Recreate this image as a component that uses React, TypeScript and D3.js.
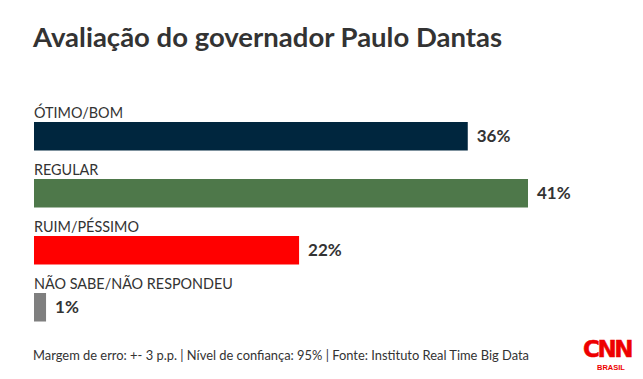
import React from "react";
import * as d3 from "d3";

const categories = ["ÓTIMO/BOM", "REGULAR", "RUIM/PÉSSIMO", "NÃO SABE/NÃO RESPONDEU"];
const values = [36, 41, 22, 1];
const colors = ["#00263e", "#4e784a", "#ff0000", "#7f7f7f"];
const title = "Avaliação do governador Paulo Dantas";
const footer = "Margem de erro: +- 3 p.p. | Nível de confiança: 95% | Fonte: Instituto Real Time Big Data";

const W = 643;
const H = 379;
const FONT = "Lato, 'Open Sans', sans-serif";

export default function App() {
  const x = d3.scaleLinear().domain([0, 41]).range([34, 528]);
  const band = d3.scaleBand<number>().domain(d3.range(categories.length)).range([104, 332]).paddingInner(0).paddingOuter(0);
  return (
    <svg width={W} height={H} style={{ position: "fixed", left: 0, top: 0 }} fontFamily={FONT}>
      <rect width={W} height={H} fill="#fff" />
      <text x={33} y={47} fontSize={27.5} fontWeight={700} fill="#333">{title}</text>
      {categories.map((c, i) => {
        const y0 = band(i)!;
        const barY = y0 + 18;
        const barH = 28.5;
        return (
          <g key={c}>
            <text x={34} y={y0 + 14} fontSize={14.4} fill="#333">{c}</text>
            <rect x={x(0)} y={barY} width={x(values[i]) - x(0)} height={barH} fill={colors[i]} />
            <text x={x(values[i]) + 9} y={barY + barH / 2 + 6} fontSize={17} fontWeight={700} fill="#333">{values[i]}%</text>
          </g>
        );
      })}
      <text x={33} y={360} fontSize={12.9} fill="#333">{footer}</text>
      <g>
        <text x={607} y={357} fontSize={23} fontWeight={900} fill="#e00" textAnchor="middle" letterSpacing={-2.5} fontFamily="'DejaVu Sans', sans-serif" stroke="#e00" strokeWidth={0.5}>CNN</text>
        <text x={611} y={370} fontSize={7.5} fontWeight={700} fill="#e00" textAnchor="middle" fontFamily="'Liberation Sans', sans-serif">BRASIL</text>
      </g>
    </svg>
  );
}
